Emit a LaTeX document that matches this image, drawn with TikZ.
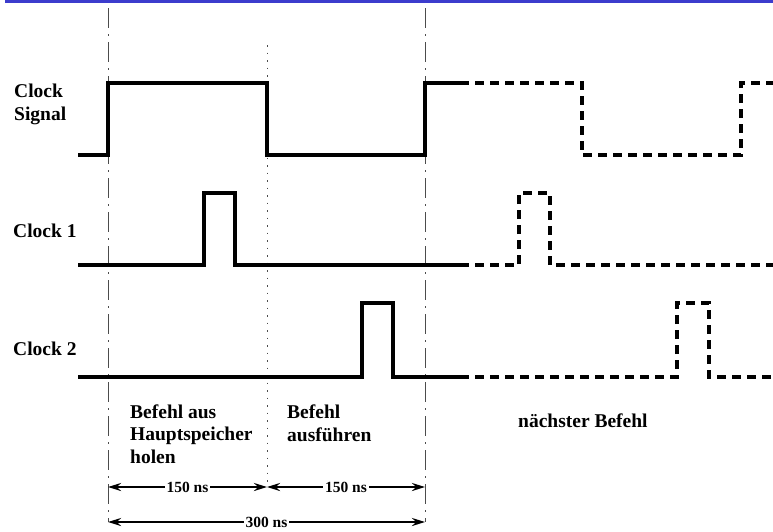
\documentclass[tikz,border=0pt]{standalone}
\usepackage{fontspec}
\setmainfont{Liberation Serif}
\usetikzlibrary{arrows.meta,positioning}
\definecolor{barblue}{RGB}{60,60,205}

\begin{document}
\begin{tikzpicture}[x=1pt,y=-1pt,
          line cap=butt,line join=miter,
          sig/.style={draw=black,line width=4pt},
          sigdash/.style={draw=black,line width=4pt,dash pattern=on 9pt off 6pt},
          tmark/.style={draw=black!70,line width=0.8pt,dash pattern=on 20pt off 6pt on 2pt off 6pt},
          tdot/.style={draw=black!70,line width=0.8pt,dash pattern=on 1.5pt off 6pt},
          lbl/.style={font=\fontsize{19.5}{22.5}\selectfont\bfseries,inner sep=0pt,align=left},
          dim/.style={line width=2.6pt,{Stealth[length=13pt,width=8pt]}-{Stealth[length=13pt,width=8pt]}},
          dimlbl/.style={font=\fontsize{15.5}{18}\selectfont\bfseries,fill=white,inner sep=2pt}]
        \useasboundingbox (0,0) rectangle (773,531);
        \fill[barblue] (5,0) rectangle (773,3);

        % time marks
        \coordinate (a0) at (108,8);
        \coordinate (a1) at (108,522);
        \coordinate (m0) at (267,45);
        \coordinate (m1) at (267,487);
        \coordinate (b0) at (425,8);
        \coordinate (b1) at (425,522);
        \draw[tmark] (a0) -- (a1);
        \draw[tmark] (b0) -- (b1);
        \draw[tdot] (m0) -- (m1);

        % signals
        \draw[sig] (78,155) -- (108,155) -- (108,83) -- (267,83) -- (267,155)
          -- (425,155) -- (425,83) -- (460,83);
        \draw[sigdash] (460,83) -- (582,83) -- (582,155) -- (741,155) -- (741,83) -- (773,83);
        \draw[sig] (78,265) -- (204,265) -- (204,193) -- (235,193) -- (235,265) -- (460,265);
        \draw[sigdash] (460,265) -- (519,265) -- (519,193) -- (550,193) -- (550,265) -- (773,265);
        \draw[sig] (78,377) -- (362,377) -- (362,303) -- (393,303) -- (393,377) -- (460,377);
        \draw[sigdash] (460,377) -- (677,377) -- (677,303) -- (709,303) -- (709,377) -- (773,377);

        % base of a node with several lines is its last line
        \node[lbl,anchor=base west] (sig) at (14,120) {Clock\\Signal};
        \node[lbl,anchor=base west] (clka) at (13,237) {Clock 1};
        \node[lbl,anchor=base west] (clkb) at (13,355) {Clock 2};
        \node[lbl,anchor=base west] (fetch) at (130,463) {Befehl aus\\Hauptspeicher\\holen};
        \node[lbl,anchor=base west] (exec) at (287,441) {Befehl\\ausführen};
        \node[lbl,anchor=base west] (next) at (518,427) {nächster Befehl};

        % durations
        \draw[dim] (a1 |- m1) -- node[dimlbl] {150 ns} (m1);
        \draw[dim] (m1) -- node[dimlbl] {150 ns} (b1 |- m1);
        \draw[dim] (a1) -- node[dimlbl] {300 ns} (b1);
      \end{tikzpicture}
\end{document}
